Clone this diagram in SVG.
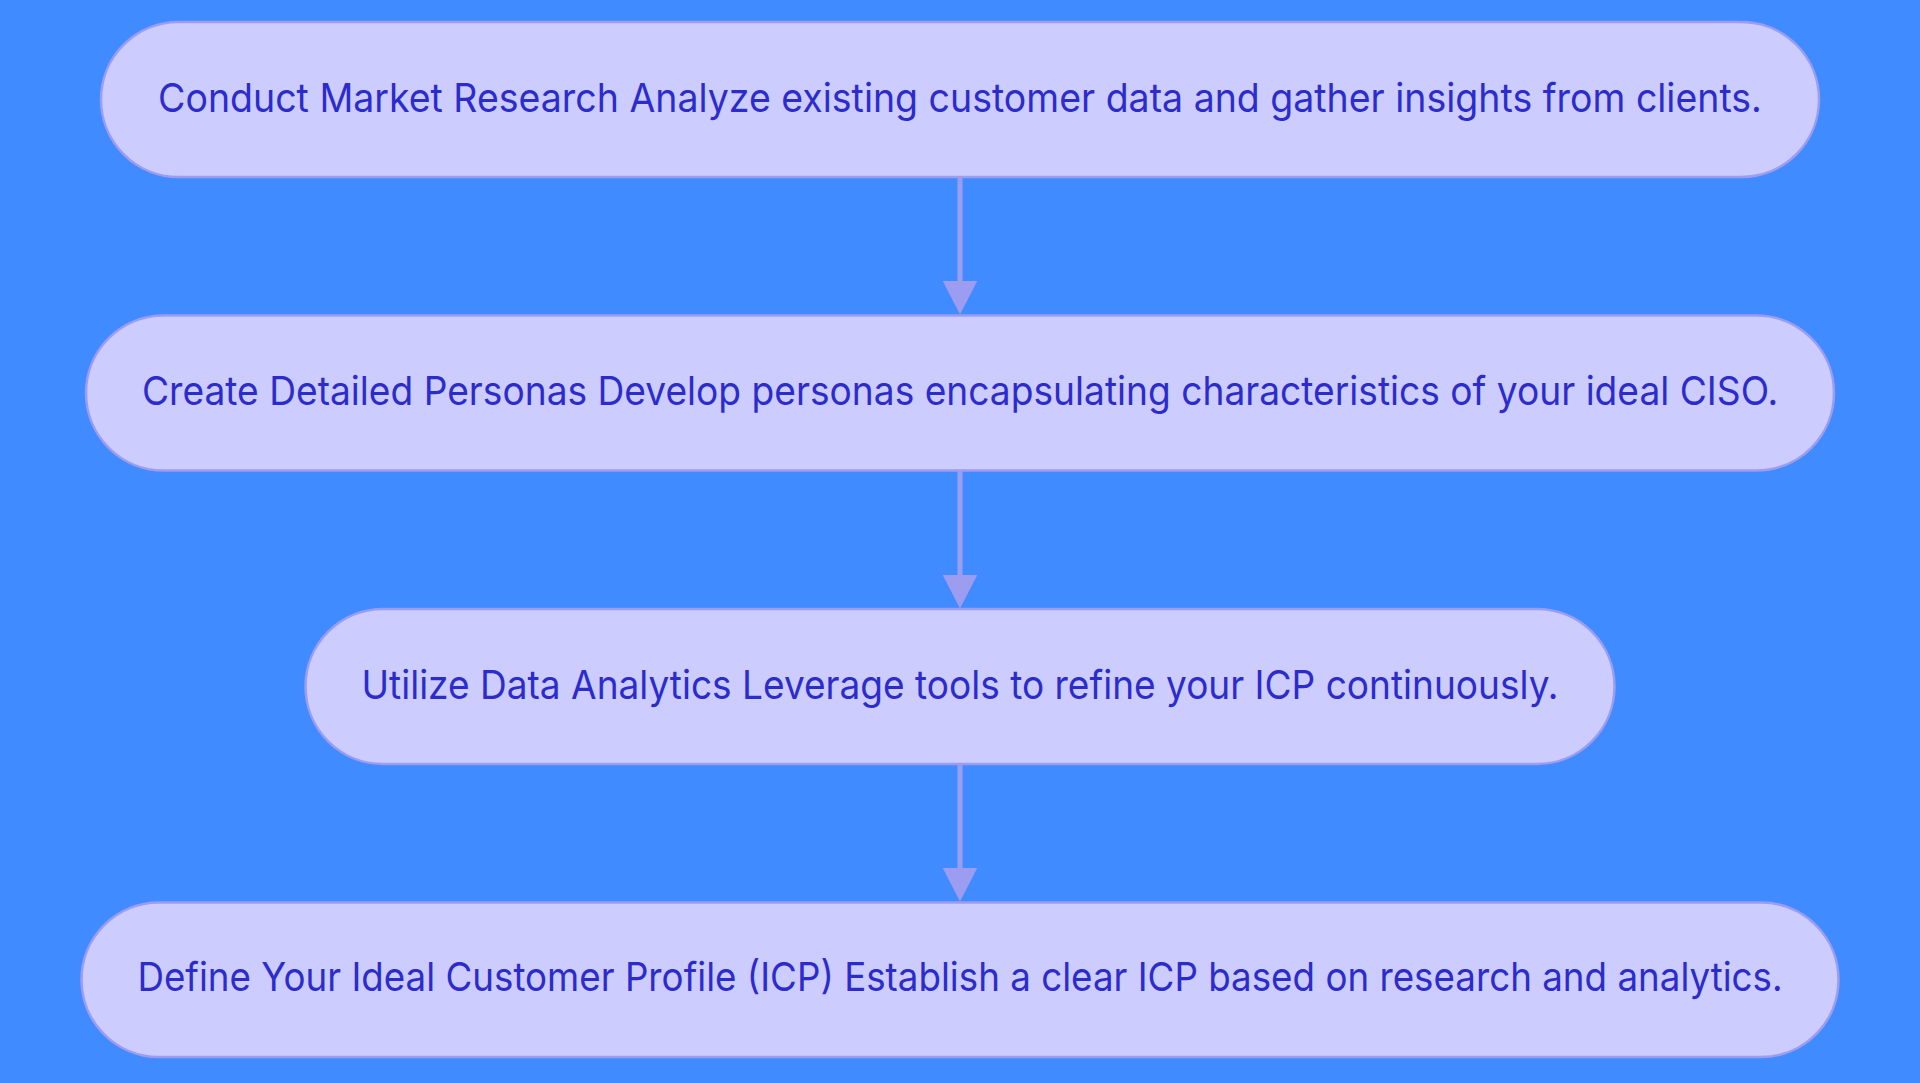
<svg xmlns="http://www.w3.org/2000/svg" width="1920" height="1083" viewBox="0 0 1920 1083">
<defs>
<style>
.node rect{fill:#ccccff;stroke:#9c9cf0;stroke-width:2.5}
.node text{font-family:Inter,"Noto Sans","Liberation Sans",sans-serif;font-size:40px;fill:#2c2ccc;text-anchor:middle}
.edge{stroke:#9c9cf0;stroke-width:5;fill:none}
.head{fill:#9c9cf0}
</style>
</defs>
<rect x="0" y="0" width="1920" height="1083" fill="#3f8bff"/>
<g id="connectors">
<line class="edge" x1="960" y1="177" x2="960" y2="284"/>
<polygon class="head" points="942.7,281 977.3,281 960,314.5"/>
<line class="edge" x1="960" y1="470" x2="960" y2="578"/>
<polygon class="head" points="942.7,575 977.3,575 960,608.5"/>
<line class="edge" x1="960" y1="764" x2="960" y2="871"/>
<polygon class="head" points="942.7,868 977.3,868 960,901.5"/>
</g>
<g id="node1" class="node">
<rect x="101" y="22" width="1718" height="155" rx="77.5" ry="77.5"/>
<text transform="translate(960,111.5) scale(0.9,1)" x="0" y="0" textLength="1782" lengthAdjust="spacingAndGlyphs">Conduct Market Research Analyze existing customer data and gather insights from clients.</text>
</g>
<g id="node2" class="node">
<rect x="86" y="315.5" width="1748" height="155" rx="77.5" ry="77.5"/>
<text transform="translate(960,405) scale(0.9,1)" x="0" y="0" textLength="1818" lengthAdjust="spacingAndGlyphs">Create Detailed Personas Develop personas encapsulating characteristics of your ideal CISO.</text>
</g>
<g id="node3" class="node">
<rect x="305.5" y="609" width="1309" height="155" rx="77.5" ry="77.5"/>
<text transform="translate(960,698.5) scale(0.9,1)" x="0" y="0" textLength="1330" lengthAdjust="spacingAndGlyphs">Utilize Data Analytics Leverage tools to refine your ICP continuously.</text>
</g>
<g id="node4" class="node">
<rect x="81.5" y="902.5" width="1757" height="154.5" rx="77.25" ry="77.25"/>
<text transform="translate(960,991) scale(0.9,1)" x="0" y="0" textLength="1828" lengthAdjust="spacingAndGlyphs">Define Your Ideal Customer Profile (ICP) Establish a clear ICP based on research and analytics.</text>
</g>
</svg>
